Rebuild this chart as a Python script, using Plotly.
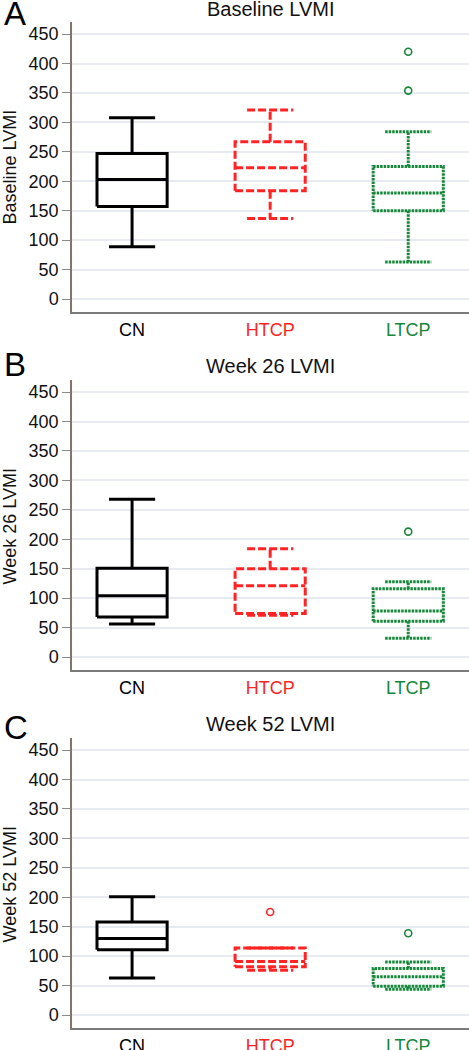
import plotly.graph_objects as go

# ---------------- data ----------------
groups = ["CN", "HTCP", "LTCP"]
panel_titles = ["Baseline LVMI", "Week 26 LVMI", "Week 52 LVMI"]
panel_letters = ["A", "B", "C"]
y_ticks = [0, 50, 100, 150, 200, 250, 300, 350, 400, 450]

# Baseline
base_low = [89, 137, 63]
base_q1 = [157, 184, 150]
base_med = [203, 223, 180]
base_q3 = [247, 267, 225]
base_high = [308, 321, 284]
base_out = [[], [], [420, 354]]

# Week 26
w26_low = [56, 71, 32]
w26_q1 = [68, 74, 61]
w26_med = [104, 121, 78]
w26_q3 = [151, 150, 116]
w26_high = [268, 184, 128]
w26_out = [[], [], [213]]

# Week 52
w52_low = [63, 76, 44]
w52_q1 = [111, 82, 49]
w52_med = [130, 91, 65]
w52_q3 = [158, 114, 79]
w52_high = [201, 114, 90]
w52_out = [[], [175], [139]]

panels = [
    (base_low, base_q1, base_med, base_q3, base_high, base_out),
    (w26_low, w26_q1, w26_med, w26_q3, w26_high, w26_out),
    (w52_low, w52_q1, w52_med, w52_q3, w52_high, w52_out),
]

# ---------------- style ----------------
colors = ["#000000", "#ff2323", "#17873a"]
dashes = ["solid", "8px,3px", "2.5px,1px"]
FONT = "Arial, 'Liberation Sans', sans-serif"
W, H = 469, 1050
BOX_HW = 0.254
CAP_HW = 0.167

fig = go.Figure()


def box_path(c, lo, q1, med, q3, hi):
    xs, ys = [], []
    segs = [
        [(c - BOX_HW, q1), (c + BOX_HW, q1), (c + BOX_HW, q3), (c - BOX_HW, q3), (c - BOX_HW, q1)],
        [(c - BOX_HW, med), (c + BOX_HW, med)],
        [(c, q3), (c, hi)],
        [(c - CAP_HW, hi), (c + CAP_HW, hi)],
        [(c, q1), (c, lo)],
        [(c - CAP_HW, lo), (c + CAP_HW, lo)],
    ]
    for s in segs:
        for (x, y) in s:
            xs.append(x)
            ys.append(y)
        xs.append(None)
        ys.append(None)
    return xs, ys


# pixel layout of panels: (axis top px, axis bottom px)
panel_px = [(22.3, 312), (380.3, 670), (738.3, 1028)]
x_left_px = 72
yr = [-22, 470]

ticktext = [
    f"<span style='color:{colors[i]}'>{g}</span>" for i, g in enumerate(groups)
]

annotations = []
for p, (lo, q1, med, q3, hi, outs) in enumerate(panels):
    sfx = "" if p == 0 else str(p + 1)
    xa, ya = "x" + sfx, "y" + sfx
    for i in range(len(groups)):
        xs, ys = box_path(i, lo[i], q1[i], med[i], q3[i], hi[i])
        fig.add_trace(go.Scatter(
            x=xs, y=ys, mode="lines", xaxis=xa, yaxis=ya,
            line=dict(color=colors[i], width=3, dash=dashes[i]),
            showlegend=False, hoverinfo="skip",
        ))
        if outs[i]:
            fig.add_trace(go.Scatter(
                x=[i] * len(outs[i]), y=outs[i], mode="markers",
                xaxis=xa, yaxis=ya,
                marker=dict(symbol="circle-open", size=7, color=colors[i],
                            line=dict(width=1.6, color=colors[i])),
                showlegend=False,
            ))
    top, bot = panel_px[p]
    fig.layout["xaxis" + sfx] = dict(
        domain=[x_left_px / W, 1], range=[-0.435, 2.44], anchor=ya,
        tickvals=[0, 1, 2], ticktext=ticktext, showgrid=False, zeroline=False,
        showline=True, linecolor="#7a7a7a", linewidth=2, ticks="",
        tickfont=dict(size=18, family=FONT, color="#000"),
    )
    fig.layout["yaxis" + sfx] = dict(
        domain=[1 - bot / H, 1 - top / H], range=yr, anchor=xa,
        tickvals=y_ticks, showgrid=True, gridcolor="#e7eaf0", gridwidth=1.5,
        zeroline=False, showline=True, linecolor="#85736c", linewidth=1.5,
        ticks="outside", ticklen=8, tickcolor="#8a8a8a", tickwidth=1,
        tickfont=dict(size=18, family=FONT, color="#111"),
    )
    # title
    title_y = [8, 365, 723][p]
    annotations.append(dict(
        text=panel_titles[p], xref="paper", yref="paper",
        x=(x_left_px + W) / 2 / W, y=1 - (title_y + 1) / H,
        xanchor="center", yanchor="middle", showarrow=False,
        font=dict(size=20, family=FONT, color="#111"),
    ))
    # letter
    letter_y = [13, 363, 726][p]
    annotations.append(dict(
        text=panel_letters[p], xref="paper", yref="paper",
        x=2 / W, y=1 - (letter_y + 1) / H,
        xanchor="left", yanchor="middle", showarrow=False,
        font=dict(size=33, family=FONT, color="#000"),
    ))
    # y axis title
    ytitle_y = [167, 527, 885][p]
    annotations.append(dict(
        text=panel_titles[p], xref="paper", yref="paper",
        x=9.5 / W, y=1 - ytitle_y / H, textangle=-90,
        xanchor="center", yanchor="middle", showarrow=False,
        font=dict(size=18, family=FONT, color="#111"),
    ))

fig.update_layout(
    width=W, height=H,
    margin=dict(l=0, r=0, t=0, b=0, autoexpand=False),
    paper_bgcolor="white", plot_bgcolor="white",
    annotations=annotations,
    showlegend=False,
)

fig.write_html(
    "out.html",
    config={"displayModeBar": False},
    post_script="document.body.style.margin='0';document.body.style.padding='0';",
)
